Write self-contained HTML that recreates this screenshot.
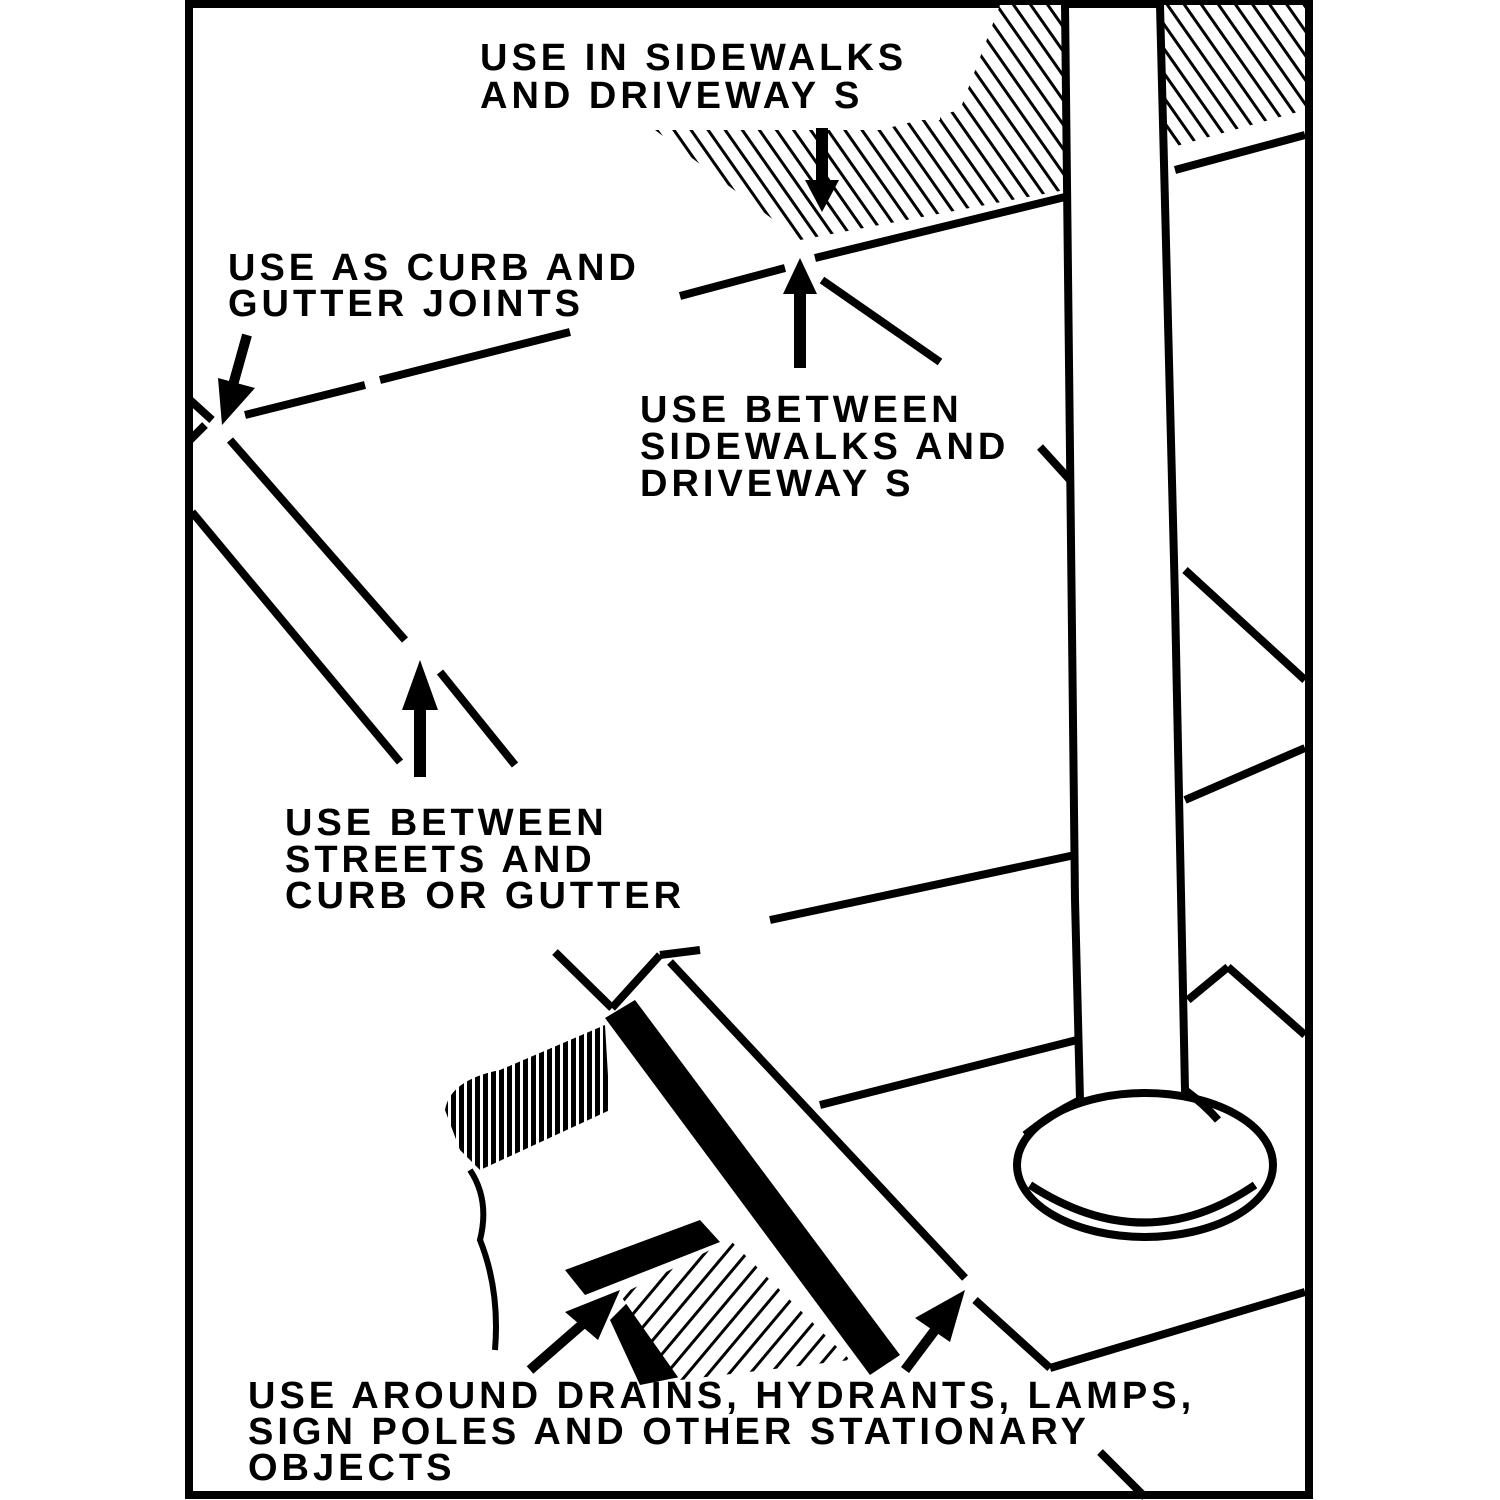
<!DOCTYPE html>
<html><head><style>
html,body{margin:0;padding:0;background:#fff;}
svg{display:block;}
text{font-family:"Liberation Sans",sans-serif;font-size:38px;fill:#000;letter-spacing:4px;font-weight:bold;}
</style></head><body>
<svg width="1500" height="1500" viewBox="0 0 1500 1500" xmlns="http://www.w3.org/2000/svg">
<defs>
<pattern id="h1" width="14" height="14" patternUnits="userSpaceOnUse" patternTransform="rotate(-35)">
<rect width="14" height="14" fill="#fff"/><rect width="3" height="14" fill="#000"/></pattern>
<pattern id="h2" width="8" height="8" patternUnits="userSpaceOnUse">
<rect width="8" height="8" fill="#000"/><rect width="3" height="8" fill="#fff"/></pattern>
<pattern id="h3" width="16" height="16" patternUnits="userSpaceOnUse" patternTransform="rotate(40)">
<rect width="16" height="16" fill="#fff"/><rect width="3" height="16" fill="#000"/></pattern>
</defs>
<rect x="0" y="0" width="1500" height="1500" fill="#fff"/>
<rect x="189" y="4" width="1120" height="1491" fill="none" stroke="#000" stroke-width="8"/>

<polygon points="655,130 800,240 1065,190 1065,5 1000,5 960,110 880,130" fill="url(#h1)"/>
<polygon points="1163,5 1305,5 1305,110 1180,145 1166,150" fill="url(#h1)"/>
<rect x="480" y="30" width="460" height="90" fill="#fff"/>

<g stroke="#000" stroke-width="8" fill="none" stroke-linecap="butt">
<path d="M1065,5 L1075,900 L1080,1100 Q1050,1115 1025,1135"/>
<path d="M1160,5 L1175,600 L1185,1090 Q1205,1105 1218,1120"/>
<ellipse cx="1145" cy="1165" rx="128" ry="72"/>
<path d="M1030,1185 Q1145,1260 1255,1185"/>
<line x1="680" y1="296" x2="785" y2="268"/>
<line x1="815" y1="258" x2="1065" y2="197"/>
<line x1="1175" y1="170" x2="1305" y2="135"/>
<line x1="822" y1="280" x2="940" y2="362"/>
<line x1="245" y1="415" x2="365" y2="385"/>
<line x1="380" y1="380" x2="570" y2="332"/>
<line x1="190" y1="400" x2="212" y2="420"/>
<line x1="190" y1="440" x2="205" y2="425"/>
<line x1="230" y1="440" x2="405" y2="640"/>
<line x1="440" y1="672" x2="515" y2="765"/>
<line x1="192" y1="512" x2="400" y2="762"/>
<line x1="1040" y1="447" x2="1070" y2="480"/>
<line x1="1185" y1="570" x2="1305" y2="680"/>
<line x1="1185" y1="800" x2="1305" y2="748"/>
<line x1="770" y1="920" x2="1075" y2="855"/>
<line x1="820" y1="1105" x2="1077" y2="1040"/>
<line x1="1228" y1="967" x2="1305" y2="1035"/>
<line x1="1188" y1="1000" x2="1228" y2="967"/>
<line x1="975" y1="1300" x2="1050" y2="1368"/>
<line x1="1050" y1="1368" x2="1305" y2="1292"/>
<line x1="1100" y1="1452" x2="1145" y2="1497"/>
<line x1="555" y1="952" x2="612" y2="1008"/>
<line x1="612" y1="1008" x2="660" y2="955"/>
<line x1="660" y1="955" x2="700" y2="950"/>
<line x1="670" y1="962" x2="965" y2="1278"/>
</g>
<polygon points="605,1018 635,1000 900,1355 870,1375" fill="#000"/>
<polygon points="565,1270 700,1220 720,1242 585,1295" fill="#000"/>
<polygon points="610,1320 630,1300 690,1375 640,1385" fill="#000"/>
<polygon points="620,1295 730,1240 850,1360 680,1380" fill="url(#h3)"/>
<path d="M445,1110 Q450,1080 500,1070 L605,1025 L610,1110 L480,1170 Q470,1160 460,1150 Z" fill="url(#h2)"/>
<path d="M470,1170 Q490,1200 480,1240 Q500,1290 495,1350" stroke="#000" stroke-width="6" fill="none"/>

<g fill="#000">
<rect x="816" y="128" width="12" height="55"/><polygon points="805,180 839,180 822,212"/>
<rect x="794" y="290" width="12" height="78"/><polygon points="783,294 817,294 800,258"/>
<line x1="247" y1="335" x2="233" y2="385" stroke="#000" stroke-width="10"/><polygon points="218,378 255,388 222,425"/>
<rect x="414" y="705" width="12" height="72"/><polygon points="402,710 438,710 420,660"/>
<line x1="530" y1="1370" x2="585" y2="1322" stroke="#000" stroke-width="10"/><polygon points="565,1312 598,1340 620,1290"/>
<line x1="905" y1="1370" x2="935" y2="1330" stroke="#000" stroke-width="10"/><polygon points="915,1318 950,1342 965,1290"/>
</g>

<text x="480" y="70">USE IN SIDEWALKS</text>
<text x="480" y="108">AND DRIVEWAY S</text>
<text x="228" y="280">USE AS CURB AND</text>
<text x="228" y="316">GUTTER JOINTS</text>
<text x="640" y="422">USE BETWEEN</text>
<text x="640" y="459">SIDEWALKS AND</text>
<text x="640" y="496">DRIVEWAY S</text>
<text x="285" y="835">USE BETWEEN</text>
<text x="285" y="872">STREETS AND</text>
<text x="285" y="908">CURB OR GUTTER</text>
<text x="248" y="1408">USE AROUND DRAINS, HYDRANTS, LAMPS,</text>
<text x="248" y="1444">SIGN POLES AND OTHER STATIONARY</text>
<text x="248" y="1480">OBJECTS</text>
</svg>
</body></html>
